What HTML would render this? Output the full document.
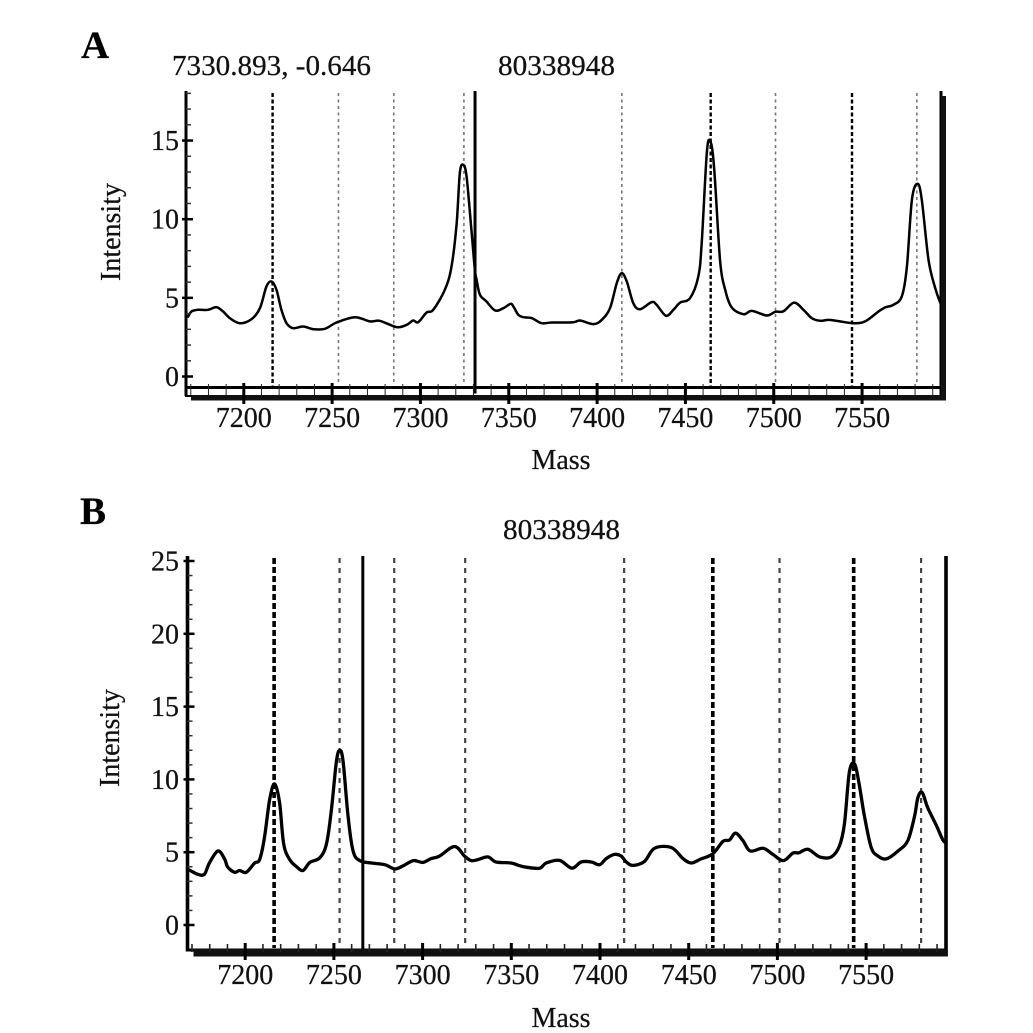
<!DOCTYPE html>
<html lang="en">
<head>
<meta charset="utf-8">
<title>Mass spectra panels A and B</title>
<style>
html,body{margin:0;padding:0;background:#fff;width:1033px;height:1033px;overflow:hidden}
svg{display:block}
text{font-family:"Liberation Serif",serif;fill:#111;stroke:#111;stroke-width:0.25px}
.lab{font-size:28px}
.letter{font-size:39px;font-weight:bold;fill:#000}
</style>
</head>
<body>
<svg id="chart" xmlns="http://www.w3.org/2000/svg" width="1033" height="1033" viewBox="0 0 1033 1033">
  <rect x="0" y="0" width="1033" height="1033" fill="#fff"/>
  <g id="panelA">
    <text class="letter" x="81" y="58">A</text>
    <text class="lab" x="172" y="75" textLength="199" lengthAdjust="spacingAndGlyphs">7330.893, -0.646</text>
    <text class="lab" x="498" y="75" textLength="117" lengthAdjust="spacingAndGlyphs">80338948</text>
    <text class="lab" transform="translate(120 232) rotate(-90)" text-anchor="middle">Intensity</text>
    <text class="lab" x="561" y="469" text-anchor="middle">Mass</text>
  </g>
  <g id="panelB">
    <text class="letter" x="80" y="524">B</text>
    <text class="lab" x="503" y="539" textLength="117" lengthAdjust="spacingAndGlyphs">80338948</text>
    <text class="lab" transform="translate(119 738) rotate(-90)" text-anchor="middle">Intensity</text>
    <text class="lab" x="561" y="1027" text-anchor="middle">Mass</text>
  </g>
</svg>
<script>
const xTickLabels = [7200, 7250, 7300, 7350, 7400, 7450, 7500, 7550];
const yTickLabelsA = [0, 5, 10, 15];
const yTickLabelsB = [0, 5, 10, 15, 20, 25];

const strongMarkersA = [7216.3, 7464.3, 7544.3];
const lightMarkersA = [7253.6, 7284.9, 7324.6, 7414, 7501, 7581];
const cursorMassA = 7330.9;

const strongMarkersB = [7216.3, 7463.6, 7543];
const lightMarkersB = [7253.2, 7284, 7324, 7413.6, 7501.2, 7581];
const cursorMassB = 7266.3;

const massA = [7168.5,7170.4,7174.1,7179.8,7184.5,7188.3,7192.1,7197.7,7204.3,7209.1,7212.8,7215.7,7218.5,7221.3,7224.2,7227.9,7233.6,7239.3,7245.9,7252.5,7262.9,7271.4,7277,7286.5,7292.1,7295.9,7298.7,7303.5,7307.2,7313.8,7317.6,7320.5,7322.3,7324.2,7326.1,7329,7330.8,7331.8,7333.7,7337.4,7342.2,7346.9,7351,7352.6,7355.4,7358.2,7362.9,7368.6,7374.3,7386.5,7390.3,7397.9,7402.6,7407.3,7411.1,7413.9,7416.8,7420.5,7424.3,7430.9,7433.7,7439,7443.2,7447,7452.6,7457.3,7459.2,7462.1,7464.1,7466.2,7469.6,7472.5,7476.2,7482.8,7487.6,7496,7500.8,7505.5,7511.5,7516.8,7521.5,7526.3,7531,7536.6,7545.1,7551.7,7559.3,7563.1,7567.8,7572.5,7575.4,7578.2,7581.4,7583.8,7587.6,7591.4,7594.2,7595];
const intensityA = [3.81,4.13,4.24,4.24,4.41,4.13,3.71,3.39,3.64,4.34,5.72,6.04,5.51,4.24,3.39,3.07,3.18,3.01,3.03,3.43,3.77,3.5,3.54,3.14,3.28,3.56,3.45,4.07,4.24,5.51,6.99,9.75,12.93,13.46,12.71,9.11,6.78,6.15,5.19,4.77,4.2,4.34,4.62,4.45,3.92,3.77,3.71,3.39,3.43,3.45,3.56,3.33,3.6,4.34,5.93,6.57,6.04,4.66,4.28,4.73,4.56,3.86,4.24,4.7,4.98,6.36,8.48,14.2,14.94,13.35,7.42,5.51,4.39,3.96,4.17,3.88,4.11,4.15,4.7,4.24,3.71,3.54,3.6,3.52,3.39,3.5,4.13,4.39,4.56,5.09,6.99,11.23,12.25,11.23,7.42,5.62,4.7,4.55];

const massB = [7167.6,7169.5,7173.3,7177,7179.8,7184.6,7188.3,7190.2,7194,7196.8,7200.6,7205.3,7208.1,7210.9,7213.8,7216.6,7219.4,7221.7,7225.1,7228.8,7232.6,7236.4,7242,7245.8,7248.6,7251.4,7253.3,7255.2,7258,7260.8,7264.6,7271.2,7278.7,7284.4,7289.1,7294.8,7300.1,7304.8,7309.5,7318,7323.7,7327.4,7331.2,7336.8,7341.4,7349.9,7354.6,7358.4,7366,7369.7,7377.2,7384.1,7389.4,7395.1,7399.8,7403.5,7408.2,7412,7414.8,7418.5,7425.1,7430.7,7440.2,7446.8,7451.5,7457,7463.6,7469.3,7473,7476.4,7480.6,7484.7,7491.9,7497.4,7503.4,7508.7,7512.1,7517.2,7523.8,7530.4,7535,7537.8,7540.6,7543.5,7545.9,7549.1,7552.9,7556.7,7561.4,7568,7573.5,7577.3,7579.2,7581.6,7584.8,7589.5,7593.3,7594.6];
const intensityB = [3.83,3.71,3.48,3.48,4.26,5.08,4.56,3.97,3.62,3.74,3.62,4.26,4.49,6.03,8.63,9.69,8.39,5.56,4.49,4.02,3.74,4.3,4.61,5.56,7.92,11.23,11.99,11.23,7.45,5.08,4.42,4.26,4.14,3.85,4.07,4.42,4.3,4.56,4.73,5.39,4.73,4.42,4.49,4.68,4.33,4.26,4.07,3.97,3.9,4.26,4.44,3.9,4.33,4.33,4.14,4.56,4.85,4.73,4.33,4.09,4.37,5.27,5.32,4.56,4.26,4.54,4.89,5.74,5.84,6.31,5.79,5.08,5.27,4.85,4.42,4.94,4.96,5.2,4.68,4.68,5.44,6.97,10.52,11.06,9.81,7.45,5.32,4.73,4.54,5.08,5.79,7.45,8.75,9.1,8.04,6.86,5.84,5.7];

const SVGNS = 'http://www.w3.org/2000/svg';

function shape(tag, attrs, parent) {
  const el = document.createElementNS(SVGNS, tag);
  for (const k in attrs) el.setAttribute(k, attrs[k]);
  parent.appendChild(el);
  return el;
}

function smoothPath(pts) {
  let d = 'M' + pts[0][0].toFixed(1) + ' ' + pts[0][1].toFixed(1);
  for (let i = 0; i < pts.length - 1; i++) {
    const p0 = pts[Math.max(0, i - 1)], p1 = pts[i], p2 = pts[i + 1], p3 = pts[Math.min(pts.length - 1, i + 2)];
    const c1x = p1[0] + (p2[0] - p0[0]) / 6, c1y = p1[1] + (p2[1] - p0[1]) / 6;
    const c2x = p2[0] - (p3[0] - p1[0]) / 6, c2y = p2[1] - (p3[1] - p1[1]) / 6;
    d += 'C' + c1x.toFixed(1) + ' ' + c1y.toFixed(1) + ' ' + c2x.toFixed(1) + ' ' + c2y.toFixed(1) + ' ' + p2[0].toFixed(1) + ' ' + p2[1].toFixed(1);
  }
  return d;
}

function drawPanel(cfg) {
  const root = document.getElementById(cfg.id);
  const xOf = m => cfg.x0 + (m - 7200) * cfg.xScale;
  const yOf = v => cfg.y0 - v * cfg.yScale;

  // dashed peak markers
  cfg.lightMarkers.forEach(m => {
    const mark = shape('line', {x1: xOf(m), x2: xOf(m), y1: cfg.markTop, y2: cfg.markBottom, stroke: cfg.lightColor, 'stroke-width': cfg.lightWidth, 'stroke-dasharray': cfg.lightDash}, root);
    
    
  });
  cfg.strongMarkers.forEach(m => {
    const mark = shape('line', {x1: xOf(m), x2: xOf(m), y1: cfg.markTop, y2: cfg.markBottom + 4, stroke: '#000', 'stroke-width': cfg.strongWidth, 'stroke-dasharray': cfg.strongDash}, root);
    
    
  });

  // spectrum trace
  const pts = cfg.mass.map((m, i) => [xOf(m), yOf(cfg.intensity[i])]);
  const trace = shape('path', {d: smoothPath(pts), fill: 'none', stroke: '#000', 'stroke-width': cfg.traceWidth, 'stroke-linejoin': 'round', 'stroke-linecap': 'round'}, root);
  
  

  // cursor
  const cursor = shape('line', {x1: xOf(cfg.cursor), x2: xOf(cfg.cursor), y1: cfg.top, y2: cfg.axisY + 6, stroke: '#000', 'stroke-width': 3}, root);
  
  

  // axes frame
  const leftAxis = shape('rect', {x: cfg.left - cfg.axisWidth / 2, y: cfg.top, width: cfg.axisWidth, height: cfg.axisBottom - cfg.top, fill: '#000'}, root);
  
  

  const rightAxis = shape('rect', {x: cfg.right - cfg.axisWidth / 2, y: cfg.top, width: cfg.axisWidth, height: cfg.bandBottom - cfg.top, fill: '#000'}, root);
  
  

  const xAxis = shape('rect', {x: cfg.left - 1.5, y: cfg.axisY - 1.5, width: cfg.right - cfg.left + 3, height: 3, fill: '#000'}, root);
  
  

  const band = shape('rect', {x: cfg.left + cfg.bandInset, y: cfg.bandTop, width: cfg.bandRight - cfg.left - cfg.bandInset, height: cfg.bandBottom - cfg.bandTop, fill: '#111'}, root);
  
  

  if (cfg.rightShadow) {
    const shadow = shape('rect', {x: cfg.right, y: cfg.top + 5, width: cfg.rightShadow, height: cfg.bandBottom - cfg.top - 5, fill: '#111'}, root);
    
    
  }

  if (cfg.boxLeft) {
    const lowLeft = shape('rect', {x: cfg.left - 1, y: cfg.axisBottom - 1, width: cfg.bandInset + 2, height: 2, fill: '#000'}, root);
    
    
  }

  // x minor ticks
  for (let m = 7170; m < 7595; m += 10) {
    if (m % 50 === 0) continue;
    const minor = shape('line', {x1: xOf(m), x2: xOf(m), y1: cfg.minorTop, y2: cfg.minorBottom, stroke: '#222', 'stroke-width': cfg.minorWidth}, root);
    
    
  }

  // x major ticks and labels
  xTickLabels.forEach(m => {
    const tick = shape('line', {x1: xOf(m), x2: xOf(m), y1: cfg.majorTop, y2: cfg.majorBottom, stroke: '#000', 'stroke-width': 3}, root);
    
    
    const label = shape('text', {x: xOf(m), y: cfg.xLabelY, 'text-anchor': 'middle', class: 'lab'}, root);
    label.textContent = m;
    
    
  });

  // y minor ticks
  for (let v = 0; v <= cfg.yMax; v += 1) {
    if (v % 5 === 0) continue;
    const minor = shape('line', {x1: cfg.left, x2: cfg.left + 5, y1: yOf(v), y2: yOf(v), stroke: '#333', 'stroke-width': 1.5}, root);
    
    
  }

  // y major ticks and labels
  cfg.yTicks.forEach(v => {
    const tick = shape('line', {x1: cfg.left - 4, x2: cfg.left + 7, y1: yOf(v), y2: yOf(v), stroke: '#000', 'stroke-width': 2.5}, root);
    
    
    const label = shape('text', {x: 179, y: yOf(v) + 9.5, 'text-anchor': 'end', class: 'lab'}, root);
    label.textContent = v;
    
    
  });
}

drawPanel({
  id: 'panelA', mass: massA, intensity: intensityA, yTicks: yTickLabelsA, yMax: 18,
  lightMarkers: lightMarkersA, strongMarkers: strongMarkersA, cursor: cursorMassA,
  x0: 243.8, xScale: 1.7665, y0: 376.5, yScale: 15.73,
  left: 186, right: 941, top: 91, axisY: 387.5, axisBottom: 396, axisWidth: 3,
  bandInset: 5, bandTop: 395, bandBottom: 400.5, bandRight: 946, rightShadow: 5, boxLeft: true,
  minorTop: 384, minorBottom: 395, minorWidth: 1, majorTop: 383, majorBottom: 404,
  xLabelY: 427, markTop: 93, markBottom: 384,
  lightColor: '#777', lightWidth: 1.6, lightDash: '3 3.5', strongWidth: 2.4, strongDash: '4 2.5',
  traceWidth: 2.5
});

drawPanel({
  id: 'panelB', mass: massB, intensity: intensityB, yTicks: yTickLabelsB, yMax: 25,
  lightMarkers: lightMarkersB, strongMarkers: strongMarkersB, cursor: cursorMassB,
  x0: 245.2, xScale: 1.774, y0: 925, yScale: 14.56,
  left: 187.5, right: 946, top: 556, axisY: 950, axisBottom: 951.5, axisWidth: 3.6,
  bandInset: 6, bandTop: 949, bandBottom: 956.5, bandRight: 947.8, rightShadow: 0, boxLeft: false,
  minorTop: 944, minorBottom: 952, minorWidth: 1.6, majorTop: 943, majorBottom: 960,
  xLabelY: 984, markTop: 558, markBottom: 944,
  lightColor: '#444', lightWidth: 2.2, lightDash: '5 5', strongWidth: 3.6, strongDash: '6 3',
  traceWidth: 3.3
});
</script>
</body>
</html>
